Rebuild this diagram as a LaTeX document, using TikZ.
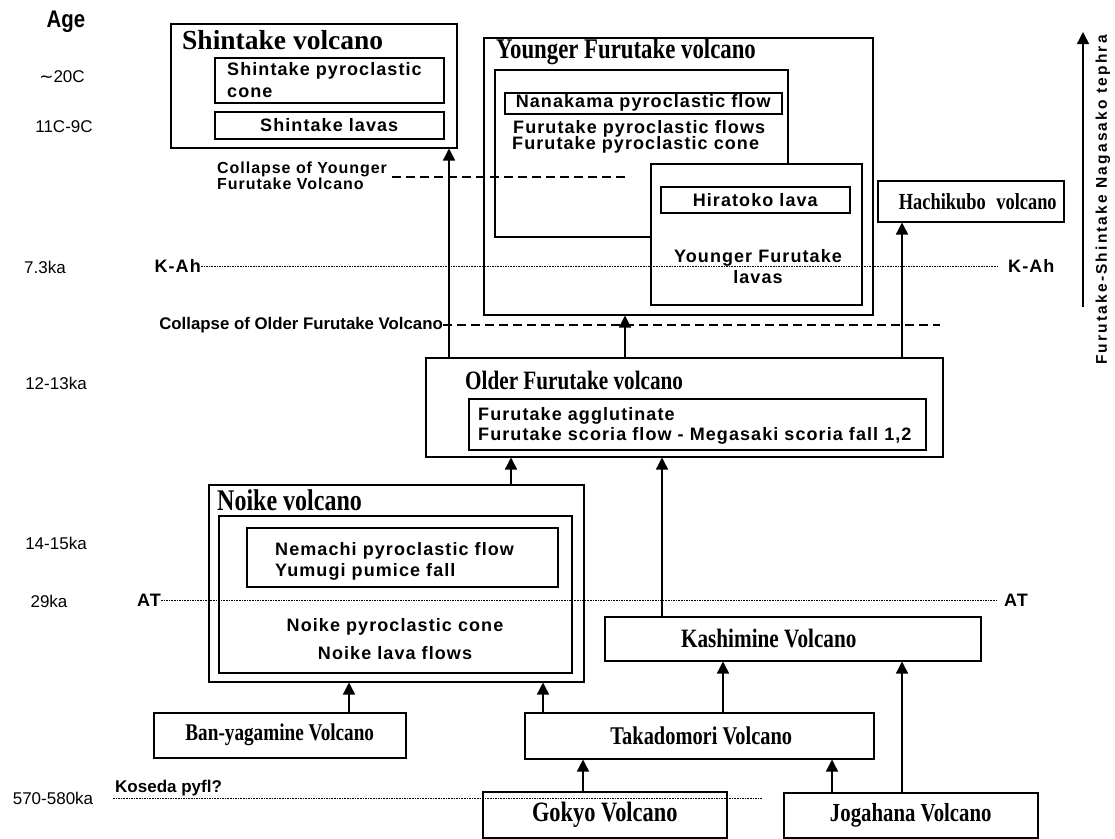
\documentclass[tikz,border=0pt]{standalone}
\usepackage{fontspec}
\usetikzlibrary{arrows.meta}

\newfontfamily\sansfont{Liberation Sans}
\newfontfamily\lblfont[LetterSpace=6]{Liberation Sans}
\newfontfamily\widefont[LetterSpace=14]{Liberation Sans}
\newfontfamily\narrowfont[FakeStretch=0.85]{Liberation Sans}
\newfontfamily\titlefont[FakeStretch=0.8]{Liberation Serif}
\newfontfamily\serifwide{Liberation Serif}
\newfontfamily\symfont{DejaVu Sans}

\newcommand\unitlbl{\lblfont\bfseries\fontsize{18}{17}\selectfont}
\newcommand\volcname{\titlefont\bfseries\fontsize{26.5}{26}\selectfont}
\newcommand\agelbl{\sansfont\fontsize{17}{17}\selectfont}

\begin{document}
\begin{tikzpicture}[x=1pt, y=-1pt,
    box/.style={draw, line width=1.5pt, inner sep=0pt, anchor=north west},
    wbox/.style={box, fill=white},
    title/.style={anchor=west, inner sep=0pt, font=\volcname},
    unit/.style={inner sep=0pt, font=\unitlbl},
    age/.style={inner sep=0pt, font=\agelbl},
    arr/.style={line width=1.4pt, -{Triangle[length=12pt,width=12pt]}},
    marker/.style={line width=1pt, dash pattern=on 1.6pt off 1pt},
    collapse/.style={line width=1.3pt, dash pattern=on 9pt off 5pt}]
  \useasboundingbox (0,0) rectangle (1115,838);

  % age column
  \node[age, font=\narrowfont\bfseries\fontsize{24}{24}\selectfont] (age) at (66,22) {Age};
  \node[age] (a-20c) at (62,77) {{\symfont ∼}20C};
  \node[age] (a-11c) at (64,127) {11C-9C};
  \node[age] (a-kah) at (45,267) {7.3ka};
  \node[age] (a-12k) at (56,383) {12-13ka};
  \node[age] (a-14k) at (56,543) {14-15ka};
  \node[age] (a-29k) at (49,601) {29ka};
  \node[age] (a-570) at (53,798) {570-580ka};

  % Shintake
  \node[box, minimum width=286pt, minimum height=124pt] (shintake) at (170,23) {};
  \node[title, font=\serifwide\bfseries\fontsize{27.5}{27}\selectfont] (shintake-t) at (182,40) {Shintake volcano};
  \node[box, minimum width=229pt, minimum height=45pt] (shpyro) at (214,57) {};
  \node[unit, anchor=base west] (shpyro-1) at (227,75) {Shintake pyroclastic};
  \node[unit, anchor=base west] (shpyro-2) at (227,97) {cone};
  \node[box, minimum width=229pt, minimum height=27pt] (shlava) at (214,111) {};
  \node[unit] (shlava-t) at (shlava) {Shintake lavas};

  % Younger Furutake
  \node[box, minimum width=389pt, minimum height=277pt] (younger) at (483,37) {};
  \node[title, font=\titlefont\bfseries\fontsize{28.5}{28}\selectfont] (younger-t) at (496,52) {Younger Furutake volcano};
  \node[box, minimum width=293pt, minimum height=167pt] (yfpyro) at (494,69) {};
  \node[box, minimum width=277pt, minimum height=21pt] (nanakama) at (504,92) {};
  \node[unit] (nanakama-t) at (nanakama) {Nanakama pyroclastic flow};
  \node[unit, anchor=base west] (yfpyro-1) at (513,133) {Furutake pyroclastic flows};
  \node[unit, anchor=base west] (yfpyro-2) at (512,149) {Furutake pyroclastic cone};
  \node[wbox, minimum width=211pt, minimum height=141pt] (yflava) at (650,163) {};
  \node[box, minimum width=189pt, minimum height=26pt] (hiratoko) at (660,186) {};
  \node[unit] (hiratoko-t) at (hiratoko) {Hiratoko lava};
  \node[unit, anchor=base] (yflava-1) at (758,262) {Younger Furutake};
  \node[unit, anchor=base] (yflava-2) at (758,283) {lavas};

  % Hachikubo
  \node[box, minimum width=186pt, minimum height=41pt] (hachikubo) at (877,180) {};
  \node[title, anchor=center, font=\titlefont\bfseries\fontsize{23}{23}\selectfont] (hachikubo-t) at ([xshift=7pt]hachikubo.center) {Hachikubo\hspace{6pt} volcano};

  % Older Furutake
  \node[box, minimum width=517pt, minimum height=99pt] (older) at (425,357) {};
  \node[title] (older-t) at (465,380) {Older Furutake volcano};
  \node[box, minimum width=457pt, minimum height=51pt] (ofinner) at (468,398) {};
  \node[unit, anchor=base west] (ofinner-1) at (478,420) {Furutake agglutinate};
  \node[unit, anchor=base west] (ofinner-2) at (478,440) {Furutake scoria flow - Megasaki scoria fall 1,2};

  % Noike
  \node[box, minimum width=375pt, minimum height=197pt] (noike) at (208,484) {};
  \node[title, font=\titlefont\bfseries\fontsize{30}{30}\selectfont] (noike-t) at (217,500) {Noike volcano};
  \node[box, minimum width=353pt, minimum height=157pt] (noinner) at (218,515) {};
  \node[box, minimum width=311pt, minimum height=59pt] (nemachi) at (246,527) {};
  \node[unit, anchor=base west] (nemachi-1) at (275,555) {Nemachi pyroclastic flow};
  \node[unit, anchor=base west] (nemachi-2) at (275,576) {Yumugi pumice fall};
  \node[unit] (noinner-1) at (395,627) {Noike pyroclastic cone};
  \node[unit] (noinner-2) at (395,653) {Noike lava flows};

  % older volcanoes
  \node[box, minimum width=376pt, minimum height=44pt] (kashimine) at (604,616) {};
  \node[title, anchor=center] (kashimine-t) at ([xshift=-24pt]kashimine.center) {Kashimine Volcano};
  \node[box, minimum width=252pt, minimum height=45pt] (banya) at (153,712) {};
  \node[title, anchor=center, font=\titlefont\bfseries\fontsize{24}{24}\selectfont] (banya-t) at (banya) {Ban-yagamine Volcano};
  \node[box, minimum width=349pt, minimum height=46pt] (takado) at (524,712) {};
  \node[title, anchor=center, font=\titlefont\bfseries\fontsize{25.5}{25}\selectfont] (takado-t) at ([xshift=2pt]takado.center) {Takadomori Volcano};
  \node[box, minimum width=244pt, minimum height=46pt] (gokyo) at (482,791) {};
  \node[title, anchor=center, font=\titlefont\bfseries\fontsize{28}{28}\selectfont] (gokyo-t) at (gokyo) {Gokyo Volcano};
  \node[box, minimum width=254pt, minimum height=45pt] (jogahana) at (783,792) {};
  \node[title, anchor=center, font=\titlefont\bfseries\fontsize{26}{26}\selectfont] (jogahana-t) at (jogahana) {Jogahana Volcano};

  % marker horizons
  \node[unit, anchor=east] (kah-l) at (201,266) {K-Ah};
  \node[unit, anchor=west] (kah-r) at (1008,266) {K-Ah};
  \draw[marker, shorten >=10pt] (kah-l.east) -- (kah-r.west);
  \node[unit, anchor=east] (at-l) at (161,600) {AT};
  \node[unit, anchor=west] (at-r) at (1004,600) {AT};
  \draw[marker, shorten >=6pt] (at-l.east) -- (at-r.west);
  \coordinate (kos-a) at (113,798);
  \coordinate (kos-b) at (762,798);
  \node[inner sep=0pt, anchor=base west, font=\sansfont\bfseries\fontsize{17}{17}\selectfont] (kos-t) at (115,792) {Koseda pyfl?};
  \draw[marker] (kos-a) -- (kos-b);

  % collapse events
  \node[unit, anchor=base west, font=\lblfont\bfseries\fontsize{16}{16}\selectfont] (cyf-1) at (217,173) {Collapse of Younger};
  \node[unit, anchor=base west, font=\lblfont\bfseries\fontsize{16}{16}\selectfont] (cyf-2) at (217,189) {Furutake Volcano};
  \coordinate (cyf-a) at (392,177);
  \coordinate (cyf-b) at (625,177);
  \draw[collapse] (cyf-a) -- (cyf-b);
  \node[inner sep=0pt, anchor=east, font=\sansfont\bfseries\fontsize{16.8}{16}\selectfont] (cof) at (443,325) {Collapse of Older Furutake Volcano};
  \coordinate (cof-b) at (940,325);
  \draw[collapse] (cof.east) -- (cof-b);

  % arrow columns
  \coordinate (c-sh) at (449,0);
  \coordinate (c-yf) at (625,0);
  \coordinate (c-hk) at (902,0);
  \coordinate (c-no) at (511,0);
  \coordinate (c-ks) at (662,0);
  \coordinate (c-bn) at (349,0);
  \coordinate (c-tn) at (543,0);
  \coordinate (c-tk) at (723,0);
  \coordinate (c-gk) at (583,0);
  \coordinate (c-jt) at (832,0);

  \draw[arr] (older.north -| c-sh) -- (shintake.south -| c-sh);
  \draw[arr] (older.north -| c-yf) -- (younger.south -| c-yf);
  \draw[arr] (older.north -| c-hk) -- (hachikubo.south -| c-hk);
  \draw[arr] (noike.north -| c-no) -- (older.south -| c-no);
  \draw[arr] (kashimine.north -| c-ks) -- (older.south -| c-ks);
  \draw[arr] (banya.north -| c-bn) -- (noike.south -| c-bn);
  \draw[arr] (takado.north -| c-tn) -- (noike.south -| c-tn);
  \draw[arr] (takado.north -| c-tk) -- (kashimine.south -| c-tk);
  \draw[arr] (gokyo.north -| c-gk) -- (takado.south -| c-gk);
  \draw[arr] (jogahana.north -| c-jt) -- (takado.south -| c-jt);
  \draw[arr] (jogahana.north -| c-hk) -- (kashimine.south -| c-hk);

  % tephra axis
  \coordinate (ax-lo) at (1083,307);
  \coordinate (ax-hi) at (1083,32);
  \draw[arr] (ax-lo) -- (ax-hi);
  \node[inner sep=0pt, rotate=90, font=\widefont\bfseries\fontsize{15.5}{15.5}\selectfont] (tephra) at (1103,200) {Furutake-Shintake Nagasako tephra};
\end{tikzpicture}
\end{document}
